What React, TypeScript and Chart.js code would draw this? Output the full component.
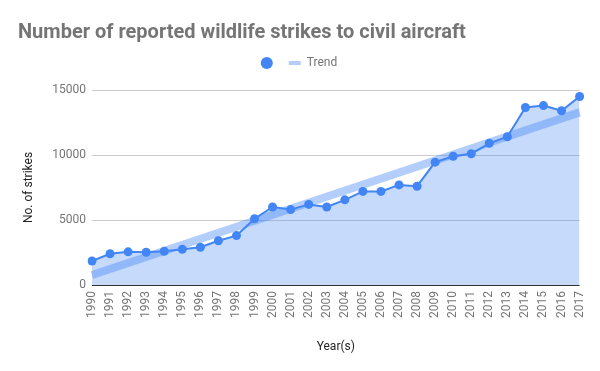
import React, { useEffect, useRef } from "react";
import { Chart, registerables } from "chart.js";

Chart.register(...registerables);

const years = [
  "1990", "1991", "1992", "1993", "1994", "1995", "1996", "1997", "1998", "1999",
  "2000", "2001", "2002", "2003", "2004", "2005", "2006", "2007", "2008", "2009",
  "2010", "2011", "2012", "2013", "2014", "2015", "2016", "2017",
];

const strikes = [
  1850, 2400, 2550, 2520, 2600, 2750, 2900, 3400, 3800, 5100,
  6000, 5800, 6200, 6000, 6550, 7200, 7200, 7700, 7600, 9450,
  9900, 10100, 10900, 11400, 13650, 13800, 13400, 14500,
];

const trendYears = ["1990", "2017"];
const trendValues = [770, 13280];

const yTicks = [0, 5000, 10000, 15000];

const BLUE = "#4285f4";
const TREND = "rgba(66,133,244,0.4)";
const GRAY = "#757575";
const FONT = "Roboto";
const LEGEND_EXTRA = 11;

const legendPad = {
  id: "legendPad",
  beforeLayout(chart: any) {
    const lg = chart.legend;
    if (lg && !lg._padPatched) {
      const f = lg.fit;
      lg.fit = function (this: any) {
        f.call(this);
        this.height += LEGEND_EXTRA;
      };
      lg._padPatched = true;
    }
  },
};

export default function App() {
  const ref = useRef<HTMLCanvasElement | null>(null);

  useEffect(() => {
    const canvas = ref.current;
    if (!canvas) return;
    const chart = new Chart(canvas, {
      type: "line",
      data: {
        labels: years,
        datasets: [
          {
            label: "",
            data: strikes,
            borderColor: BLUE,
            backgroundColor: "rgba(66,133,244,0.3)",
            borderWidth: 2,
            pointRadius: 4.5,
            pointBorderWidth: 0,
            pointBackgroundColor: BLUE,
            pointBorderColor: BLUE,
            fill: "origin",
            tension: 0,
          },
          {
            label: "Trend",
            data: trendYears.map((y, i) => ({ x: y, y: trendValues[i] })),
            borderColor: TREND,
            backgroundColor: TREND,
            borderWidth: 8,
            pointRadius: 0,
            fill: false,
            borderCapStyle: "butt",
          },
        ],
      },
      plugins: [legendPad],
      options: {
        responsive: false,
        animation: false,
        devicePixelRatio: 1,
        layout: { padding: { left: 18, right: 20, top: 0, bottom: 15 } },
        plugins: {
          filler: { drawTime: "beforeDatasetsDraw" },
          tooltip: { enabled: false },
          title: {
            display: true,
            text: "Number of reported wildlife strikes to civil aircraft",
            align: "start",
            color: GRAY,
            font: { family: FONT, size: 20, weight: "bold" },
            padding: { top: 21, bottom: 2 },
          },
          legend: {
            display: true,
            position: "top",
            labels: {
              usePointStyle: true,
              boxHeight: 8.5,
              boxWidth: 12,
              padding: 10,
              color: GRAY,
              font: { family: FONT, size: 12 },
              generateLabels: (c: any) => {
                const items = Chart.defaults.plugins.legend.labels.generateLabels(c);
                return items.map((it: any, i: number) => {
                  if (i === 0) {
                    return { ...it, pointStyle: "circle", fillStyle: BLUE, strokeStyle: BLUE, lineWidth: 0 };
                  }
                  return { ...it, pointStyle: "line", fillStyle: TREND, strokeStyle: TREND, lineWidth: 4 };
                });
              },
            },
          },
        },
        scales: {
          x: {
            type: "category",
            offset: false,
            grid: { display: false, drawTicks: false },
            border: { display: false },
            ticks: {
              autoSkip: false,
              minRotation: 90,
              maxRotation: 90,
              padding: 6,
              color: GRAY,
              font: { family: FONT, size: 12 },
            },
            title: {
              display: true,
              text: "Year(s)",
              color: "#222222",
              font: { family: FONT, size: 12 },
              padding: { top: 4, bottom: 2 },
            },
            afterFit: (s: any) => {
              s.height = 71;
            },
          },
          y: {
            min: 0,
            max: 15000,
            afterBuildTicks: (s: any) => {
              s.ticks = yTicks.map((v) => ({ value: v }));
            },
            grid: {
              drawTicks: false,
              color: (ctx: any) => (ctx.tick && ctx.tick.value === 0 ? "#333333" : "#cccccc"),
              lineWidth: 1,
            },
            border: { display: false },
            ticks: {
              padding: 6,
              color: GRAY,
              font: { family: FONT, size: 12 },
              callback: (v: any) => String(v),
            },
            title: {
              display: true,
              text: "No. of strikes",
              color: "#222222",
              font: { family: FONT, size: 12 },
              padding: { top: 4, bottom: 4 },
            },
            afterFit: (s: any) => {
              s.width = 74;
            },
          },
        },
      },
    });
    return () => chart.destroy();
  }, []);

  return (
    <div style={{ position: "absolute", left: 0, top: 0, width: 600, height: 371, background: "#fff" }}>
      <canvas ref={ref} width={600} height={371} style={{ width: 600, height: 371 }} />
    </div>
  );
}
